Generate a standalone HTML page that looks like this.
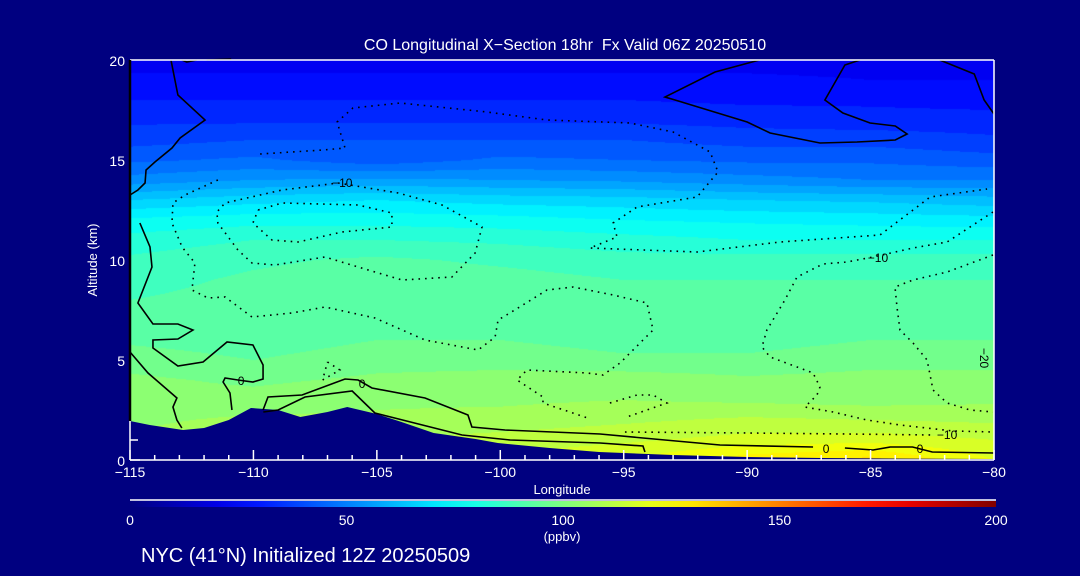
<!DOCTYPE html>
<html><head><meta charset="utf-8">
<style>
html,body{margin:0;padding:0;background:#000080;}
#wrap{position:relative;width:1080px;height:576px;background:#000080;overflow:hidden;font-family:"Liberation Sans",sans-serif;color:#fff;}
canvas{position:absolute;left:130px;top:60px;}
svg{position:absolute;left:0;top:0;}
text{white-space:pre;}
</style></head>
<body>
<div id="wrap">
<canvas id="heat" width="864" height="400"></canvas>
<svg id="ov" width="1080" height="576"></svg>
</div>
<script>
// ---- data ----
const lonGrid = [-115,-110,-105,-100,-95,-90,-85,-80];
const altGrid = [0,1,2,3,4,5,6,7,8,9,10,11,12,13,14,15,16,17,18,19,20];
const coRows = [
[110,110,112,116,120,128,132,120],
[106,108,110,112,114,117,118,115],
[104,106,106,107,109,111,110,109],
[102,102,104,104,105,104,103,104],
[101,99,101,102,103,101,102,102],
[98,95,98,98,96,96,98,98],
[94,92,95,95,93,93,95,95],
[92,92,94,94,92,92,93,93],
[90,92,94,93,91,91,92,92],
[88,91,93,92,90,90,90,90],
[86,89,91,89,87,87,87,87],
[82,85,85,84,82,80,80,80],
[76,78,78,77,75,74,73,72],
[65,68,70,68,67,65,64,62],
[52,55,56,55,54,52,50,50],
[44,46,42,46,45,44,44,42],
[38,40,40,40,40,38,38,36],
[34,34,34,34,34,33,32,32],
[30,30,30,30,30,29,29,28],
[26,26,26,26,26,26,25,25],
[23,23,23,23,23,23,23,23]];
const terrainLon = [-115,-114.2,-112.85,-112,-111,-110.1,-109,-108.1,-107,-106.2,-105,-104,-102.7,-101,-100.1,-98,-96,-93,-90,-87,-85,-80];
const terrainAlt = [1.95,1.75,1.5,1.6,2.0,2.6,2.5,2.15,2.4,2.65,2.3,1.9,1.35,1.05,0.85,0.6,0.4,0.25,0.15,0.1,0.08,0.05];
const xTicks = [-115,-110,-105,-100,-95,-90,-85,-80];
const yTicks = [0,5,10,15,20];
const cbTicks = [0,50,100,150,200];
const solidContours = [
 [[-113.34,20],[-113.06,18.25],[-111.96,17.0],[-112.97,16.1],[-113.3,15.6],[-113.99,14.9],[-114.35,14.5],[-114.39,13.85],[-114.68,13.5],[-115,13.25]],
 [[-114.6,11.85],[-114.19,10.65],[-114.11,9.65],[-114.68,7.85],[-114.07,6.8],[-113.06,6.8],[-112.45,6.5],[-113.06,6.05],[-114.07,6.0],[-114.07,5.6],[-113.06,4.7],[-112.04,4.9],[-111.07,5.9],[-110.02,5.75],[-109.61,4.75],[-109.61,4.05],[-110.02,3.9],[-110.63,4.0],[-111.15,4.1],[-111.23,3.9],[-110.95,3.35],[-110.87,2.5]],
 [[-115,5.4],[-114.27,4.35],[-113.1,3.1],[-113.26,2.65],[-113.1,2.0],[-112.9,1.6]],
 [[-109.61,2.5],[-109.41,3.15],[-108.03,3.25],[-106.29,4.05],[-105.76,4.0],[-105.2,3.6],[-103.05,3.1],[-101.31,2.25],[-101.15,1.65],[-99.81,1.5],[-95.96,1.3],[-94.22,1.1],[-91.1,0.75],[-87.33,0.65]],
 [[-109.6,2.4],[-109.0,2.5],[-107.91,3.15],[-106.0,3.45],[-105.08,2.35],[-101.55,1.25],[-99.6,1.0],[-95.96,0.85],[-94.22,0.7],[-94.14,0.4]],
 [[-86.04,0.6],[-84.9,0.5],[-84.2,0.65],[-83.3,0.65],[-82.5,0.4],[-80,0.35]],
 [[-89.5,20],[-91.3,19.4],[-93.33,18.15],[-92.92,18],[-90.0,16.9],[-89.07,16.35],[-87.05,15.85],[-85.55,15.9],[-84.0,16.0],[-83.52,16.3],[-84.0,16.7],[-85.02,16.85],[-86.12,17.35],[-86.85,18.0],[-86.04,19.75],[-85.43,20]],
 [[-82.2,20],[-80.8,19.3],[-80.4,18.0],[-80.0,17.3]],
 [[-112.9,20],[-112.7,19.9],[-112.3,20]],
 [[-111.9,20],[-110.9,20.05]]
];
const dottedContours = [
 [[-109.73,15.3],[-107.18,15.5],[-106.29,15.6],[-106.61,16.9],[-105.97,17.6],[-104.06,17.85],[-100.54,17.4],[-98.11,17.0],[-94.75,16.85],[-93.0,16.4],[-91.5,15.4],[-91.18,14.4],[-92.03,13.15],[-94.46,12.65],[-95.43,11.85],[-95.27,11.15],[-96.37,10.6],[-92.03,10.4],[-88.67,10.9],[-84.62,11.25],[-83.28,12.5],[-82.59,13.15],[-80.28,13.55]],
 [[-106.57,13.85],[-104.14,13.35],[-102.36,12.75],[-100.74,11.65],[-101.02,10.35],[-101.96,9.15],[-103.98,9.0],[-105.76,9.65],[-107.1,10.15],[-109.13,9.75],[-110.06,9.85],[-110.63,10.5],[-111.44,11.85],[-111.48,12.4],[-111.15,12.85],[-108.84,13.5],[-106.57,13.85]],
 [[-109.81,12.5],[-108.84,12.85],[-105.76,12.75],[-104.39,12.35],[-104.39,11.65],[-106.41,11.4],[-108.19,10.9],[-109.25,11.0],[-110.02,11.85],[-109.81,12.5]],
 [[-111.44,14.0],[-112.77,13.25],[-113.26,12.85],[-113.3,11.85],[-112.89,10.65],[-112.37,9.85],[-112.49,8.5],[-111.84,8.1],[-111.15,8.15],[-110.06,7.15],[-108.44,7.35],[-107.1,7.65],[-105.08,7.1],[-103.05,6.0],[-100.9,5.5],[-100.21,6.15],[-100.09,7.0],[-99.61,7.35],[-98.11,8.5],[-97.05,8.65],[-95.43,8.25],[-94.06,7.85],[-93.81,6.5],[-95.15,4.85],[-95.84,4.25],[-96.49,4.35],[-98.92,4.5],[-99.32,4.0],[-98.27,3.15],[-98.27,2.85],[-96.46,2.1]],
 [[-80.04,10.25],[-81.9,9.4],[-83.28,9.0],[-84.01,8.65],[-83.93,7.65],[-83.81,6.5],[-83.28,5.85],[-82.71,5.0],[-82.47,3.5],[-81.9,2.85],[-80.97,2.5],[-80.04,2.4]],
 [[-80.04,12.4],[-81.9,10.9],[-83.28,10.6],[-84.9,10.15],[-85.96,9.9],[-86.93,9.8],[-87.98,9.15],[-88.47,8.0],[-89.2,6.5],[-89.4,5.65],[-89.07,5.15],[-87.98,4.65],[-87.33,4.35],[-87.05,3.65],[-87.17,3.25],[-87.66,2.65],[-86.52,2.4],[-85.15,2.0],[-83.81,1.75],[-81.66,1.45],[-80.04,1.4]],
 [[-95.56,2.85],[-94.46,3.25],[-93.81,3.25],[-93.25,2.85],[-94.06,2.5],[-94.87,2.15]],
 [[-94.95,1.4],[-90,1.35],[-86,1.3],[-82.47,1.25]],
 [[-107.0,4.9],[-106.5,4.5],[-107.2,4.0],[-107.0,4.9]]
];
const contourLabels = [[-106.4,13.85,"\u221210"],[-84.7,10.1,"\u221210"],[-81.9,1.25,"\u221210"],[-110.5,3.95,"0"],[-105.6,3.8,"0"],[-86.8,0.55,"0"],[-83.0,0.55,"0"]];

// ---- scales ----
const X0=130,X1=994,Y0=460,Y1=60;
const xS = lon => X0 + (lon+115)/35*(X1-X0);
const yS = alt => Y0 - alt/20*(Y0-Y1);
function jet(t){t=Math.max(0,Math.min(1,t));
 const c=v=>Math.max(0,Math.min(1,v));
 const r=c(Math.min(4*t-1.5,-4*t+4.5)),g=c(Math.min(4*t-0.5,-4*t+3.5)),b=c(Math.min(4*t+0.5,-4*t+2.5));
 return [r*255|0,g*255|0,b*255|0];}
function val(lon,alt){
 let i=Math.min(lonGrid.length-2,Math.max(0,Math.floor((lon+115)/5)));
 let fx=(lon-lonGrid[i])/5; fx=Math.max(0,Math.min(1,fx));
 let j=Math.min(altGrid.length-2,Math.max(0,Math.floor(alt)));
 let fy=Math.max(0,Math.min(1,alt-altGrid[j]));
 const a=coRows[j][i],b=coRows[j][i+1],c=coRows[j+1][i],d=coRows[j+1][i+1];
 return a*(1-fx)*(1-fy)+b*fx*(1-fy)+c*(1-fx)*fy+d*fx*fy;}
const cv=document.getElementById('heat');const ctx=cv.getContext('2d');
const img=ctx.createImageData(864,400);
for(let py=0;py<400;py++){for(let px=0;px<864;px++){
 const lon=-115+(px+0.5)/864*35, alt=20-(py+0.5)/400*20;
 let v=val(lon,alt); v=Math.floor(v/5)*5+2.5;
 const col=jet(v/200);const k=(py*864+px)*4;
 img.data[k]=col[0];img.data[k+1]=col[1];img.data[k+2]=col[2];img.data[k+3]=255;}}
ctx.putImageData(img,0,0);

const NS='http://www.w3.org/2000/svg';const ov=document.getElementById('ov');
function mk(tag,attrs,parent){const e=document.createElementNS(NS,tag);for(const k in attrs)e.setAttribute(k,attrs[k]);(parent||ov).appendChild(e);return e;}
let tp=terrainLon.map((l,i)=>xS(l)+','+yS(terrainAlt[i])).join(' ');
tp+=' '+xS(-80)+','+Y0+' '+xS(-115)+','+Y0;
const terr=mk('polygon',{points:tp,fill:'#000080'});


solidContours.forEach(c=>{
 const p=mk('polyline',{points:c.map(q=>xS(q[0])+','+yS(q[1])).join(' '),fill:'none',stroke:'#000','stroke-width':1.6});
 
 
});
dottedContours.forEach(c=>{
 const p=mk('polyline',{points:c.map(q=>xS(q[0])+','+yS(q[1])).join(' '),fill:'none',stroke:'#000','stroke-width':1.6,'stroke-dasharray':'1.6 5'});
 
 
});
contourLabels.forEach(l=>{
 const t=mk('text',{x:xS(l[0]),y:yS(l[1])+4,'font-size':12,fill:'#000','text-anchor':'middle','font-family':'Liberation Sans'});
 t.textContent=l[2];
 
 
});
const t20=mk('text',{x:980,y:358,'font-size':12,fill:'#000','text-anchor':'middle',transform:'rotate(90 980 358)','font-family':'Liberation Sans'});
t20.textContent='\u221220';


const ax=mk('g',{stroke:'#fff','stroke-width':1.5});


mk('line',{x1:X0,y1:Y1,x2:X1,y2:Y1},ax);
mk('line',{x1:X0,y1:Y0,x2:X1,y2:Y0},ax);
mk('line',{x1:X1,y1:Y1,x2:X1,y2:Y0},ax);
mk('line',{x1:X0,y1:yS(terrainAlt[0]),x2:X0,y2:Y0},ax);
mk('line',{x1:X0,y1:Y1,x2:X0,y2:yS(terrainAlt[0]),stroke:'#000','stroke-width':2.5});
for(let l=-115;l<=-80;l++){const maj=(l%5===0);mk('line',{x1:xS(l),y1:Y0,x2:xS(l),y2:Y0-(maj?10:5)},ax);}
for(let a=0;a<terrainAlt[0];a++){const maj=(a%5===0);mk('line',{x1:X0,y1:yS(a),x2:X0+(maj?10:8),y2:yS(a)},ax);}
xTicks.forEach(v=>{const t=mk('text',{x:xS(v),y:477,'font-size':14,fill:'#fff','text-anchor':'middle','font-family':'Liberation Sans'});
 t.textContent=(v<0?'\u2212':'')+Math.abs(v);
 
 });
yTicks.forEach(v=>{const t=mk('text',{x:125,y:yS(v)+6,'font-size':14,fill:'#fff','text-anchor':'end','font-family':'Liberation Sans'});
 t.textContent=v;
 
 });
function txt(x,y,s,size,extra){const t=mk('text',Object.assign({x:x,y:y,'font-size':size,fill:'#fff','font-family':'Liberation Sans'},extra||{}));t.textContent=s;return t;}
let e;
e=txt(565,50,'CO Longitudinal X\u2212Section 18hr  Fx Valid 06Z 20250510',16,{'text-anchor':'middle'});


e=txt(562,494,'Longitude',13,{'text-anchor':'middle'});


e=txt(97,260,'Altitude (km)',13,{'text-anchor':'middle',transform:'rotate(-90 97 260)'});


const defs=mk('defs',{});const lg=mk('linearGradient',{id:'jg',x1:0,x2:1,y1:0,y2:0},defs);
for(let i=0;i<=20;i++){const c=jet(i/20);mk('stop',{offset:(i/20),'stop-color':'rgb('+c.join(',')+')'},lg);}
e=mk('rect',{x:130,y:501,width:866,height:6,fill:'url(#jg)'});


e=mk('line',{x1:130,y1:500,x2:996,y2:500,stroke:'#fff','stroke-width':1.5});


cbTicks.forEach(v=>{const t=txt(130+v/200*866,525,String(v),14,{'text-anchor':'middle'});
 
 });
e=txt(562,541,'(ppbv)',13,{'text-anchor':'middle'});


e=txt(141,562,'NYC (41\u00b0N) Initialized 12Z 20250509',20,{});


</script>
</body></html>
